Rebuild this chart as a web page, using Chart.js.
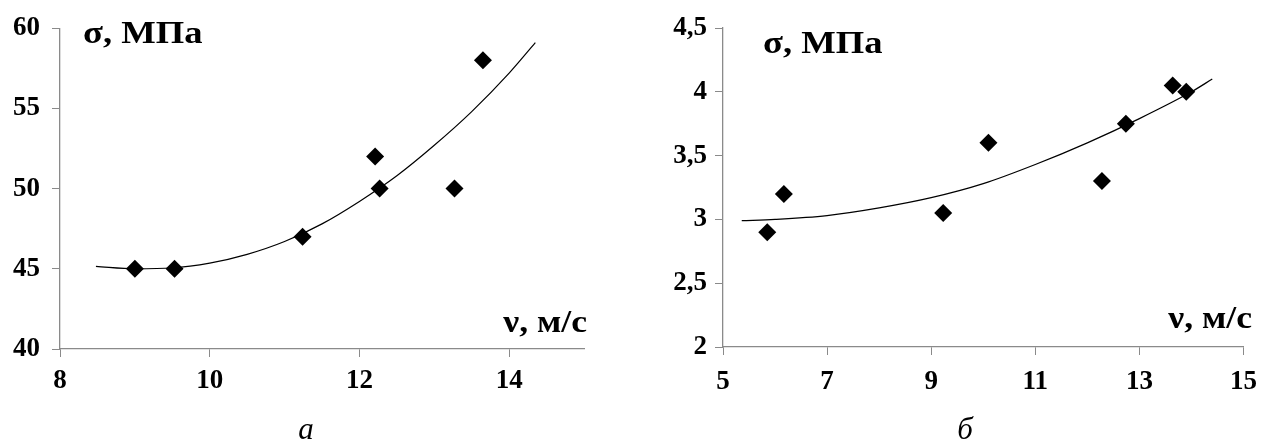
<!DOCTYPE html>
<html>
<head>
<meta charset="utf-8">
<script src="https://cdn.jsdelivr.net/npm/chart.js@4.4.1/dist/chart.umd.min.js"></script>
<style>
  html, body { margin: 0; padding: 0; background: #fff; }
  #wrap { position: relative; width: 1268px; height: 442px; overflow: hidden; background: #fff; }
  #wa { position: absolute; left: 0; top: 0; width: 600px; height: 442px; }
  #wb { position: absolute; left: 600px; top: 0; width: 668px; height: 442px; }
</style>
</head>
<body>
<div id="wrap">
  <div id="wa"><canvas id="ca"></canvas></div>
  <div id="wb"><canvas id="cb"></canvas></div>
</div>
<script>
// ---- Chart "а" data ----
const speedA = [9.0, 9.53, 11.24, 12.21, 12.27, 13.27, 13.65];
const stressA = [45, 45, 47, 52, 50, 50, 58];
const trendSpeedA = [8.48, 9.0, 9.5, 10.0, 10.5, 11.0, 11.5, 12.0, 12.5, 13.0, 13.5, 14.0, 14.35];
const trendStressA = [45.15, 45.0, 45.05, 45.35, 45.9, 46.7, 47.8, 49.2, 50.8, 52.7, 54.8, 57.2, 59.1];
const xTicksA = [8, 10, 12, 14];
const yTicksA = [40, 45, 50, 55, 60];

// ---- Chart "б" data ----
const speedB = [5.85, 6.17, 9.23, 10.1, 12.28, 12.74, 13.64, 13.9];
const stressB = [2.9, 3.2, 3.05, 3.6, 3.3, 3.75, 4.05, 4.0];
const trendSpeedB = [5.36, 6.0, 7.0, 8.0, 9.0, 10.0, 11.0, 12.0, 13.0, 14.0, 14.4];
const trendStressB = [2.99, 3.0, 3.03, 3.09, 3.17, 3.28, 3.43, 3.6, 3.79, 4.0, 4.1];
const xTicksB = [5, 7, 9, 11, 13, 15];
const yTicksB = [2, 2.5, 3, 3.5, 4, 4.5];

const yTitle = 'σ, МПа';
const xTitle = 'ν, м/с';

const AXIS_COLOR = '#8a8a8a';
const SERIF = '"Liberation Serif", "Times New Roman", serif';
const TICK_FONT = { family: SERIF, size: 27, weight: 'bold' };

function pts(xs, ys) { return xs.map((x, i) => ({ x: x, y: ys[i] })); }
function fmt(v) { return String(v).replace('.', ','); }

const textPlugin = {
  id: 'texts',
  afterDraw(chart, args, opts) {
    const ctx = chart.ctx;
    ctx.save();
    ctx.fillStyle = '#000';
    ctx.textBaseline = 'alphabetic';
    ctx.font = 'bold 31px ' + SERIF;
    // y title
    ctx.save();
    ctx.translate(opts.yTitleX, opts.yTitleY);
    ctx.scale(1.18, 1);
    ctx.textAlign = 'left';
    ctx.fillText(yTitle, 0, 0);
    ctx.restore();
    // x title
    ctx.save();
    ctx.translate(opts.xTitleX, opts.xTitleY);
    ctx.scale(1.15, 1);
    ctx.textAlign = 'right';
    ctx.fillText(xTitle, 0, 0);
    ctx.restore();
    // caption
    ctx.font = 'italic 31px ' + SERIF;
    ctx.textAlign = 'center';
    ctx.fillText(opts.caption, opts.capX, opts.capY);
    ctx.restore();
  }
};

function makeChart(id, cfg) {
  return new Chart(document.getElementById(id), {
    type: 'scatter',
    data: {
      datasets: [
        {
          data: pts(cfg.sx, cfg.sy),
          pointStyle: 'rectRot',
          pointRadius: 9,
          pointHoverRadius: 9,
          backgroundColor: '#000',
          borderColor: '#000',
          borderWidth: 0,
          order: 1
        },
        {
          data: pts(cfg.tx, cfg.ty),
          showLine: true,
          pointRadius: 0,
          borderColor: '#000',
          borderWidth: 1.2,
          cubicInterpolationMode: 'monotone',
          fill: false,
          order: 2
        }
      ]
    },
    options: {
      responsive: true,
      maintainAspectRatio: false,
      animation: false,
      events: [],
      layout: { padding: { top: cfg.padTop, right: cfg.padRight, left: 0, bottom: 0 } },
      plugins: {
        legend: { display: false },
        tooltip: { enabled: false },
        texts: cfg.texts
      },
      scales: {
        x: {
          type: 'linear',
          min: cfg.xTicks[0],
          max: cfg.xMax,
          afterBuildTicks: (s) => { s.ticks = cfg.xTicks.map(v => ({ value: v })); },
          afterFit: (s) => { s.height = cfg.xAxisH; },
          grid: { drawOnChartArea: false, drawTicks: true, tickLength: 8, color: AXIS_COLOR, tickColor: AXIS_COLOR },
          border: { color: AXIS_COLOR, width: 1.3 },
          ticks: { color: '#000', font: TICK_FONT, padding: cfg.xPad, maxRotation: 0, autoSkip: false, callback: (v) => fmt(v) }
        },
        y: {
          type: 'linear',
          min: cfg.yTicks[0],
          max: cfg.yTicks[cfg.yTicks.length - 1],
          afterBuildTicks: (s) => { s.ticks = cfg.yTicks.map(v => ({ value: v })); },
          afterFit: (s) => { s.width = cfg.yAxisW; },
          grid: { drawOnChartArea: false, drawTicks: true, tickLength: 8, color: AXIS_COLOR, tickColor: AXIS_COLOR },
          border: { color: AXIS_COLOR, width: 1.3 },
          ticks: { color: '#000', font: TICK_FONT, padding: cfg.yPad, autoSkip: false, callback: (v) => fmt(v) }
        }
      }
    },
    plugins: [textPlugin]
  });
}

makeChart('ca', {
  sx: speedA, sy: stressA, tx: trendSpeedA, ty: trendStressA,
  xTicks: xTicksA, xMax: 15, yTicks: yTicksA,
  padTop: 27, padRight: 16, yAxisW: 60, xAxisH: 93, xPad: 8, yPad: 12,
  texts: { yTitleX: 83, yTitleY: 43, xTitleX: 587, xTitleY: 332, caption: 'а', capX: 306, capY: 439 }
});

makeChart('cb', {
  sx: speedB, sy: stressB, tx: trendSpeedB, ty: trendStressB,
  xTicks: xTicksB, xMax: 15, yTicks: yTicksB,
  padTop: 28, padRight: 15, yAxisW: 123, xAxisH: 95, xPad: 11, yPad: 8,
  texts: { yTitleX: 163, yTitleY: 53, xTitleX: 652, xTitleY: 328, caption: 'б', capX: 365, capY: 439 }
});
</script>
</body>
</html>
